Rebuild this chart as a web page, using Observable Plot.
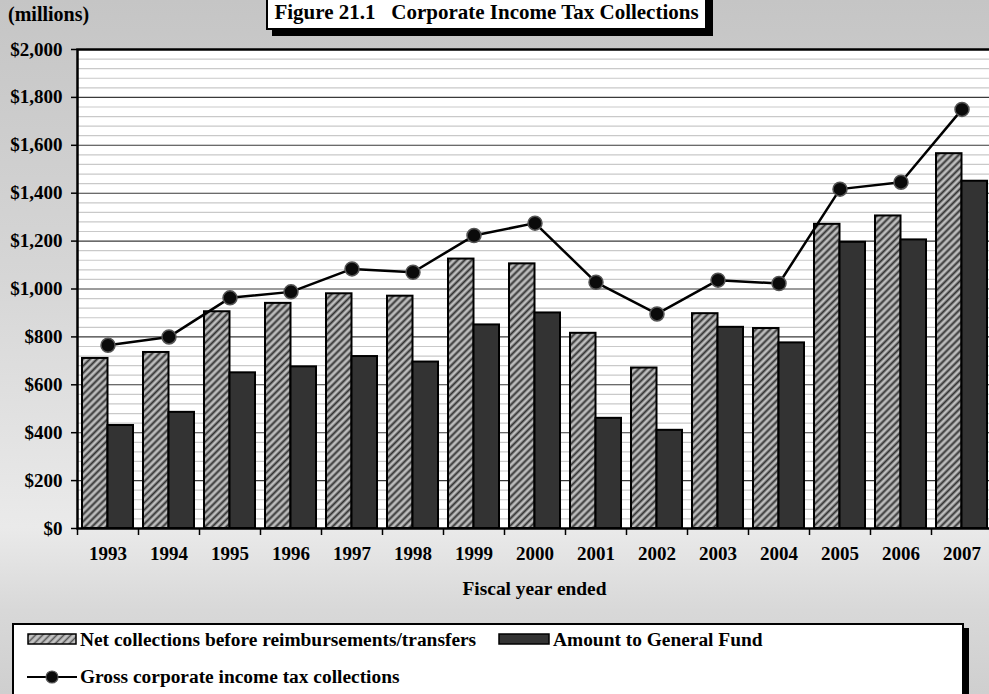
<!DOCTYPE html>
<html>
<head>
<meta charset="utf-8">
<script src="https://cdn.jsdelivr.net/npm/d3@7"></script>
<script src="https://cdn.jsdelivr.net/npm/@observablehq/plot@0.6"></script>
<style>
  html, body { margin: 0; padding: 0; }
  body { width: 989px; height: 694px; overflow: hidden; }
  #page {
    position: relative; width: 989px; height: 694px; overflow: hidden;
    background: linear-gradient(to bottom, #c5c5c5 0%, #d6d6d6 40%, #eaeaea 76%, #d8d8d8 88%, #cfcfcf 100%);
    font-family: 'Liberation Serif', 'Times New Roman', serif; font-weight: bold; color: #000;
  }
  #chart { position: absolute; left: 0; top: 0; }
  .lbl { position: absolute; font-size: 19.4px; line-height: 22px; white-space: nowrap; }
  #title {
    position: absolute; left: 266px; top: -10px; width: 441px; height: 40px; box-sizing: border-box;
    background: #fff; border: 2px solid #000; box-shadow: 6px 6px 0 #000;
    font-size: 21px; line-height: 21px; padding-top: 10px; text-align: center; white-space: pre;
  }
  #legend {
    position: absolute; left: 12px; top: 623px; width: 952px; height: 110px; box-sizing: border-box;
    background: #fff; border: 2px solid #000; box-shadow: 5px 5px 0 #000;
  }
  .sw { position: absolute; }
</style>
</head>
<body>
<div id="page">
  <div id="chart"></div>
  <div id="title">Figure 21.1   Corporate Income Tax Collections</div>
  <div class="lbl" style="left:8px; top:3px; font-size:20px;">(millions)</div>
  <div class="lbl" style="left:77px; width:915px; text-align:center; top:578px;">Fiscal year ended</div>
  <div id="legend"></div>
</div>
<script>
const years = ["1993","1994","1995","1996","1997","1998","1999","2000","2001","2002","2003","2004","2005","2006","2007"];
const netCollections = [710, 735, 905, 940, 980, 970, 1125, 1105, 815, 670, 897, 835, 1270, 1305, 1565];
const generalFund   = [430, 485, 650, 675, 718, 695, 850, 900, 460, 410, 840, 775, 1195, 1205, 1450];
const grossCollections = [765, 800, 963, 988, 1084, 1070, 1223, 1275, 1028, 896, 1037, 1023, 1417, 1446, 1750];
const seriesNames = ["Net collections before reimbursements/transfers", "Amount to General Fund", "Gross corporate income tax collections"];
const majorTicks = d3.range(0, 2001, 200);
const minorTicks = d3.range(40, 2000, 40).filter(v => v % 200 !== 0);

const data = years.map((y, i) => ({year: y, net: netCollections[i], gf: generalFund[i], gross: grossCollections[i]}));

const font = "'Liberation Serif', 'Times New Roman', serif";
const chart = Plot.plot({
  width: 989,
  height: 600,
  marginTop: 49,
  marginBottom: 72,
  marginLeft: 77,
  marginRight: -3,
  style: {fontFamily: font, background: "transparent", overflow: "hidden"},
  x: {type: "band", domain: years, padding: 0},
  y: {domain: [0, 2000]},
  marks: [
    Plot.frame({fill: "white", stroke: null}),
    Plot.ruleY(minorTicks, {stroke: "#c9c9c9", strokeWidth: 1.2}),
    Plot.ruleY(majorTicks.filter(v => v > 0 && v < 2000), {stroke: "#3a3a3a", strokeWidth: 1.1}),
    Plot.barY(data, {x: "year", y: "net", fill: "url(#hatch)", stroke: "black", strokeWidth: 2, insetLeft: 5, insetRight: 30.5}),
    Plot.barY(data, {x: "year", y: "gf", fill: "#333333", stroke: "black", strokeWidth: 2, insetLeft: 30.5, insetRight: 5}),
    Plot.line(data, {x: "year", y: "gross", stroke: "black", strokeWidth: 2.5}),
    Plot.dot(data, {x: "year", y: "gross", r: 7, fill: "#0a0a0a", stroke: "#555", strokeWidth: 1.5}),
    Plot.frame({stroke: "black", strokeWidth: 2.5}),
    Plot.axisY({ticks: majorTicks, tickFormat: d3.format("$,"), tickSize: 6, tickPadding: 9, fontSize: 19, fontWeight: "bold", label: null, stroke: "black", strokeWidth: 1.5, fill: "black"}),
    Plot.axisX({tickSize: 7, text: null, dx: -30.5, label: null, stroke: "black", strokeWidth: 1.5}),
    Plot.axisX({tickSize: 0, tickPadding: 18, fontSize: 19, fontWeight: "bold", label: null, fill: "black"})
  ]
});

d3.select(chart).insert("defs", ":first-child").html(
  `<pattern id="hatch" patternUnits="userSpaceOnUse" width="5" height="5" patternTransform="rotate(45)">
     <rect width="5" height="5" fill="#bdbdbd"/>
     <line x1="2.5" y1="0" x2="2.5" y2="5" stroke="#333" stroke-width="2"/>
   </pattern>`);
document.getElementById("chart").appendChild(chart);

// Legend
const legend = document.getElementById("legend");
const ox = 14, oy = 625; // legend inner origin in page coordinates
function place(html, x, y) {
  const d = document.createElement("div");
  d.className = "sw";
  d.style.left = (x - ox) + "px";
  d.style.top = (y - oy) + "px";
  d.innerHTML = html;
  legend.appendChild(d);
  return d;
}
place(`<svg width="52" height="14"><defs><pattern id="hatchL" patternUnits="userSpaceOnUse" width="5" height="5" patternTransform="rotate(45)"><rect width="5" height="5" fill="#c4c4c4"/><line x1="2.5" y1="0" x2="2.5" y2="5" stroke="#555" stroke-width="1.6"/></pattern></defs><rect x="1" y="1" width="48" height="10" fill="url(#hatchL)" stroke="#000" stroke-width="1.5"/></svg>`, 27, 633);
place(`<div class="lbl" style="position:static">${seriesNames[0]}</div>`, 80, 629);
place(`<svg width="54" height="14"><rect x="1" y="1" width="50" height="10" fill="#333" stroke="#000" stroke-width="1.5"/></svg>`, 498, 633);
place(`<div class="lbl" style="position:static">${seriesNames[1]}</div>`, 553, 629);
place(`<svg width="54" height="16"><line x1="0" y1="8" x2="50" y2="8" stroke="#000" stroke-width="2"/><circle cx="25" cy="8" r="6" fill="#0a0a0a" stroke="#555" stroke-width="1.2"/></svg>`, 27, 669);
place(`<div class="lbl" style="position:static">${seriesNames[2]}</div>`, 80, 666);
</script>
</body>
</html>
